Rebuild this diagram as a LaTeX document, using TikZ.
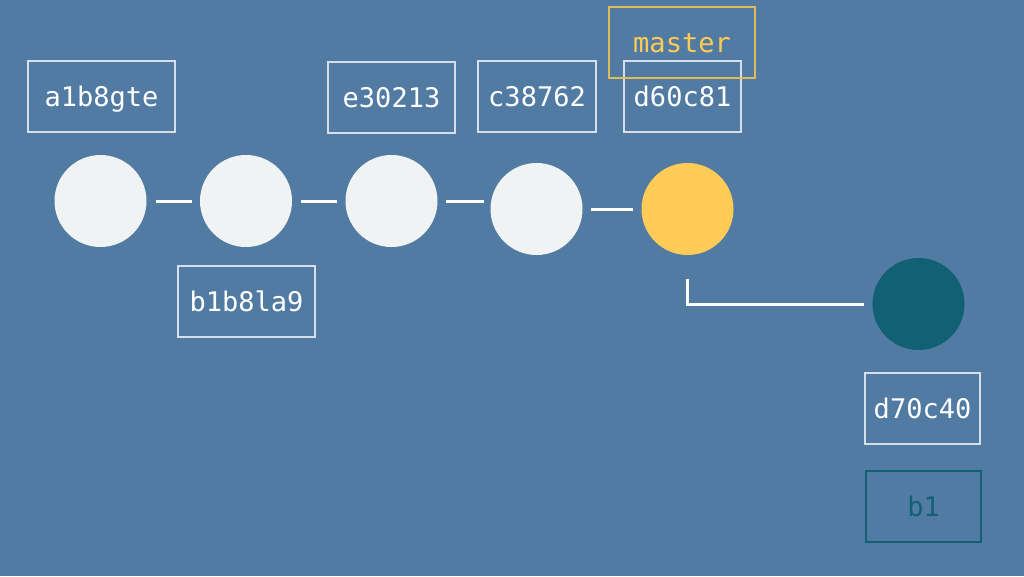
\documentclass[tikz,border=0pt]{standalone}
\usepackage{fontspec}
\setmonofont{DejaVu Sans Mono}
\definecolor{bg}{RGB}{82,123,164}
\definecolor{commit}{RGB}{240,243,244}
\definecolor{headc}{RGB}{255,203,87}
\definecolor{tealc}{RGB}{18,96,116}
\definecolor{boxline}{RGB}{215,223,234}
\definecolor{yline}{RGB}{222,188,92}
\tikzset{
  commitnode/.style={circle, fill=commit, minimum size=92pt, inner sep=0pt},
  hashbox/.style={draw=boxline, line width=1.3pt, minimum height=71pt, inner sep=0pt,
    font=\ttfamily\fontsize{27}{30}\selectfont, text=white, text height=19.6pt, text depth=0pt},
  link/.style={draw=white, line width=3pt},
}
\begin{document}
\begin{tikzpicture}[x=1pt,y=-1pt]
\fill[bg] (0,0) rectangle (1024,576);
\useasboundingbox (0,0) rectangle (1024,576);

\node[commitnode] (c1) at (100.5,201) {};
\node[commitnode] (c2) at (246,201) {};
\node[commitnode] (c3) at (391.5,201) {};
\node[commitnode] (c4) at (536.5,209) {};
\node[commitnode, fill=headc] (c5) at (687.5,209) {};
\node[commitnode, fill=tealc] (c6) at (918.5,304) {};

\draw[link, shorten <=9pt, shorten >=8pt] (c1.east) -- (c2.west);
\draw[link, shorten <=9pt, shorten >=8pt] (c2.east) -- (c3.west);
\draw[link, shorten <=8pt, shorten >=6pt] (c3.east) -- (c3.east -| c4.west);
\draw[link, shorten <=8pt, shorten >=8pt] (c4.east) -- (c5.west);
\coordinate (bend) at (c5.south |- c6.west);
\draw[link] ([yshift=-24pt]c5.south) -- (bend) -- ([xshift=-8pt]c6.west);

\node[hashbox, minimum width=147pt] (la) at (101.5,96.5) {a1b8gte};
\node[hashbox, minimum width=137pt] (lb) at (246.5,301.5) {b1b8la9};
\node[hashbox, minimum width=127pt] (le) at (391.5,97.5) {e30213};
\node[hashbox, minimum width=118pt] (lc) at (537,96.5) {c38762};
\node[hashbox, minimum width=117pt] (ld) at (682.5,96.5) {d60c81};
\node[hashbox, minimum width=146pt, draw=yline, text=headc] (master) at (682,42.5) {master};
\node[hashbox, minimum width=115pt] (lf) at (922.5,408.5) {d70c40};
\node[hashbox, minimum width=115pt, draw=tealc, text=tealc] (b1) at (923.5,506.5) {b1};
\end{tikzpicture}
\end{document}
